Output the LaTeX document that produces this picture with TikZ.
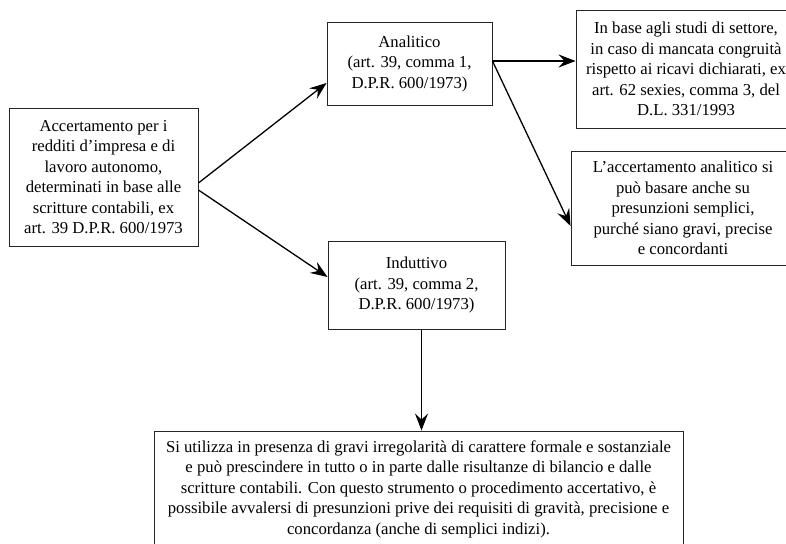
\documentclass[tikz,border=0pt]{standalone}
\usepackage{fontspec}
\setmainfont{Liberation Serif}
\usetikzlibrary{arrows.meta}
\begin{document}
\begin{tikzpicture}[x=1pt,y=-1pt,
  box/.style={draw=black!85, line width=0.9pt, rectangle, align=center, inner sep=0pt,
    font=\fontsize{16.7}{20.5}\selectfont},
  conn/.style={line width=1.3pt, -{Stealth[length=17pt,width=13pt,inset=6pt]}}]
\useasboundingbox (0,0) rectangle (786,543);
\clip (0,0) rectangle (786,543);
\node[box, minimum width=189pt, minimum height=138pt] (src) at (103.5,177)
  {Accertamento per i\\redditi d’impresa e di\\lavoro autonomo,\\determinati in base alle\\scritture contabili, ex\\art. 39 D.P.R. 600/1973};
\node[box, minimum width=165pt, minimum height=83pt] (ana) at (409.5,63.5)
  {Analitico\\(art. 39, comma 1,\\D.P.R. 600/1973)};
\node[box, minimum width=177pt, minimum height=88pt] (ind) at (416.5,285)
  {\raisebox{5pt}{\begin{tabular}{@{}c@{}}Induttivo\\(art. 39, comma 2,\\D.P.R. 600/1973)\end{tabular}}};
\node[box, minimum width=220pt, minimum height=118pt] (tr) at (686,69)
  {In base agli studi di settore,\\in caso di mancata congruità\\rispetto ai ricavi dichiarati, ex\\art. 62 sexies, comma 3, del\\D.L. 331/1993};
\node[box, minimum width=224pt, minimum height=114pt] (mr) at (683,208)
  {L’accertamento analitico si\\può basare anche su\\presunzioni semplici,\\purché siano gravi, precise\\e concordanti};
\node[box, minimum width=529pt, minimum height=116pt] (bot) at (418.5,489)
  {\raisebox{2pt}{\begin{tabular}{@{}c@{}}Si utilizza in presenza di gravi irregolarità di carattere formale e sostanziale\\e può prescindere in tutto o in parte dalle risultanze di bilancio e dalle\\scritture contabili. Con questo strumento o procedimento accertativo, è\\possibile avvalersi di presunzioni prive dei requisiti di gravità, precisione e\\concordanza (anche di semplici indizi).\end{tabular}}};
\draw[conn] ([yshift=-6pt]src.east) -- ([yshift=-19.5pt]ana.west);
\draw[conn] ([yshift=-13pt]src.east) -- ([yshift=8pt]ind.west);
\draw[conn] ([yshift=2.5pt]ana.east) -- ([yshift=8pt]tr.west);
\draw[conn] ([yshift=2.5pt]ana.east) -- ([yshift=-18pt]mr.west);
\draw[conn] ([xshift=5pt]ind.south) -- ([xshift=5pt]ind.south |- bot.north);
\end{tikzpicture}
\end{document}
